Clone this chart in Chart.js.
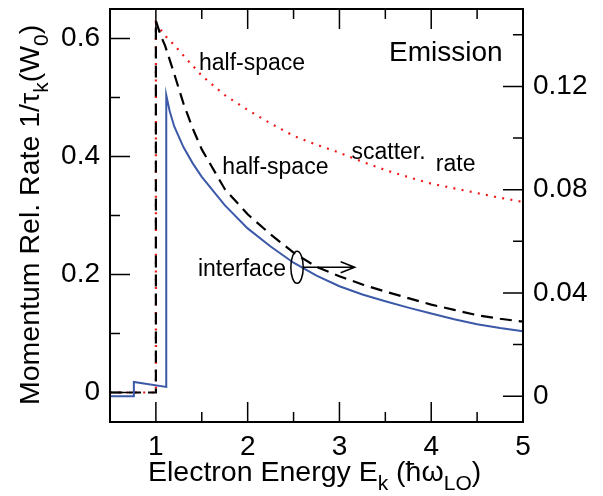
<!DOCTYPE html>
<html><head><meta charset="utf-8">
<script src="https://cdn.jsdelivr.net/npm/chart.js@4.4.0/dist/chart.umd.min.js"></script>
<style>html,body{margin:0;padding:0;background:#fff}#wrap{width:603px;height:496px;position:relative}</style>
</head><body><div id="wrap"><canvas id="c"></canvas></div>
<script>
// ---- data ----
const halfSpaceMomentumE    = [0.5, 1.0, 1.0, 1.05, 1.1, 1.2, 1.3, 1.4, 1.5, 1.75, 2.0, 2.25, 2.5, 2.75, 3.0, 3.25, 3.5, 3.75, 4.0, 4.25, 4.5, 4.75, 5.0];
const halfSpaceMomentumRate = [0, 0, 0.63, 0.606, 0.588, 0.54, 0.49, 0.448, 0.412, 0.345, 0.302, 0.268, 0.237, 0.213, 0.197, 0.183, 0.171, 0.160, 0.149, 0.140, 0.131, 0.125, 0.120];
const halfSpaceScatterE     = [0.5, 1.0, 1.0, 1.1, 1.2, 1.3, 1.5, 1.75, 2.0, 2.25, 2.5, 2.75, 3.0, 3.25, 3.5, 3.75, 4.0, 4.25, 4.5, 4.75, 5.0];
const halfSpaceScatterRate  = [0, 0, 0.626, 0.605, 0.589, 0.571, 0.537, 0.504, 0.479, 0.456, 0.435, 0.420, 0.4065, 0.391, 0.377, 0.365, 0.354, 0.346, 0.338, 0.330, 0.323];
const interfaceE            = [0.5, 0.76, 0.76, 1.113, 1.113, 1.15, 1.2, 1.3, 1.4, 1.5, 1.75, 2.0, 2.25, 2.5, 2.75, 3.0, 3.25, 3.5, 3.75, 4.0, 4.25, 4.5, 4.75, 5.0];
const interfaceRate         = [0, 0, 0.0055, 0.0036, 0.1166, 0.1105, 0.1045, 0.0965, 0.0903, 0.0850, 0.0740, 0.0650, 0.0580, 0.0517, 0.0467, 0.0426, 0.0394, 0.0368, 0.0343, 0.0320, 0.0298, 0.0279, 0.0264, 0.0252];

const xTicks = [1, 2, 3, 4, 5];
const xTickLabels = ['1', '2', '3', '4', '5'];
const xMinorTicks = [1.5, 2.5, 3.5, 4.5];
const leftTicks = [0, 0.2, 0.4, 0.6];
const leftTickLabels = ['0', '0.2', '0.4', '0.6'];
const leftMinorTicks = [0.1, 0.3, 0.5];
const rightTicks = [0, 0.04, 0.08, 0.12];
const rightTickLabels = ['0', '0.04', '0.08', '0.12'];
const rightMinorTicks = [0.02, 0.06, 0.10, 0.14];

const FONT = "'Liberation Sans', Arial, Helvetica, sans-serif";
const pts = (xs, ys) => xs.map((v, i) => ({x: v, y: ys[i]}));

function drawRich(ctx, parts, x, y, size, subSize, subDrop) {
  let cx = x;
  parts.forEach(([t, sub]) => {
    ctx.font = (sub ? subSize : size) + 'px ' + FONT;
    ctx.fillText(t, cx, y + (sub ? subDrop : 0));
    cx += ctx.measureText(t).width;
  });
}

const decor = {
  id: 'decor',
  afterDatasetsDraw(chart) {
    const {ctx, chartArea: a, scales} = chart;
    const x = scales.x, y = scales.y, y2 = scales.y2;
    ctx.save();
    ctx.strokeStyle = '#000';
    ctx.fillStyle = '#000';
    // frame
    ctx.lineWidth = 2;
    ctx.strokeRect(a.left, a.top, a.right - a.left, a.bottom - a.top);
    // inward ticks
    ctx.lineWidth = 1.5;
    ctx.beginPath();
    const MAJ = 20, MIN = 10;
    const xt = (v, L) => { const p = x.getPixelForValue(v); ctx.moveTo(p, a.bottom); ctx.lineTo(p, a.bottom - L); ctx.moveTo(p, a.top); ctx.lineTo(p, a.top + L); };
    xTicks.forEach(v => xt(v, MAJ)); xMinorTicks.forEach(v => xt(v, MIN));
    const lt = (v, L) => { const p = y.getPixelForValue(v); ctx.moveTo(a.left, p); ctx.lineTo(a.left + L, p); };
    leftTicks.forEach(v => lt(v, MAJ)); leftMinorTicks.forEach(v => lt(v, MIN));
    const rt = (v, L) => { const p = y2.getPixelForValue(v); ctx.moveTo(a.right, p); ctx.lineTo(a.right - L, p); };
    rightTicks.forEach(v => rt(v, MAJ)); rightMinorTicks.forEach(v => rt(v, MIN));
    ctx.stroke();

    // annotations (data coordinates)
    ctx.textBaseline = 'alphabetic';
    ctx.textAlign = 'left';
    const lab = (t, ex, ey, s) => { ctx.font = s + 'px ' + FONT; ctx.fillText(t, x.getPixelForValue(ex), y.getPixelForValue(ey)); };
    lab('half-space', 1.469, 0.546, 23);
    lab('half-space', 1.724, 0.371, 23);
    lab('scatter.', 3.131, 0.396, 23);
    lab('rate', 4.05, 0.375, 23);
    lab('interface', 1.458, 0.197, 23);
    lab('Emission', 3.54, 0.562, 28);

    // ellipse + arrow marking the interface curve (right axis)
    const ex = x.getPixelForValue(2.538), ey = y.getPixelForValue(0.2122);
    ctx.lineWidth = 1.5;
    ctx.beginPath();
    ctx.ellipse(ex, ey, 6.2, 16, 0, 0, Math.PI * 2);
    ctx.stroke();
    const ax1 = x.getPixelForValue(2.606), ax2 = x.getPixelForValue(3.166);
    ctx.beginPath();
    ctx.moveTo(ax1, ey); ctx.lineTo(ax2, ey);
    ctx.moveTo(ax2 - 14, ey - 5.5); ctx.lineTo(ax2, ey); ctx.lineTo(ax2 - 14, ey + 5.5);
    ctx.stroke();
    ctx.restore();
  },
  afterDraw(chart) {
    const {ctx} = chart;
    ctx.save();
    ctx.fillStyle = '#000';
    ctx.textBaseline = 'alphabetic';
    ctx.textAlign = 'left';
    // x title
    drawRich(ctx, [['Electron Energy E'], ['k', 1], [' (\u0127\u03C9'], ['LO', 1], [')']], 148, 481, 28.5, 21, 9);
    // y title
    ctx.translate(39, 405);
    ctx.rotate(-Math.PI / 2);
    drawRich(ctx, [['Momentum Rel. Rate 1/\u03C4'], ['k', 1], ['(W'], ['0', 1], [')']], 0, 0, 28.5, 21, 9);
    ctx.restore();
  }
};

const tickFont = {family: FONT, size: 28};
const noPad = s => { s.paddingTop = 0; s.paddingBottom = 0; s.paddingLeft = 0; s.paddingRight = 0; };

new Chart(document.getElementById('c'), {
  type: 'line',
  data: {
    datasets: [
      {label: 'interface', data: pts(interfaceE, interfaceRate), yAxisID: 'y2',
       borderColor: '#3c59a8', borderWidth: 2, fill: false},
      {label: 'half-space momentum', data: pts(halfSpaceMomentumE, halfSpaceMomentumRate), yAxisID: 'y',
       borderColor: '#000', borderWidth: 2.2, borderDash: [12, 7], fill: false},
      {label: 'half-space scatter. rate', data: pts(halfSpaceScatterE, halfSpaceScatterRate), yAxisID: 'y',
       borderColor: '#f01818', borderWidth: 2.2, borderDash: [2, 6.3], fill: false}
    ]
  },
  options: {
    responsive: true, maintainAspectRatio: false, animation: false, devicePixelRatio: 1,
    layout: {padding: {top: 9, left: 0, right: 0, bottom: 0}},
    plugins: {legend: {display: false}, tooltip: {enabled: false}},
    elements: {point: {radius: 0}, line: {tension: 0}},
    scales: {
      x: {type: 'linear', position: 'bottom', min: 0.5, max: 5,
          grid: {display: false, drawTicks: false}, border: {display: false},
          afterBuildTicks: s => { s.ticks = xTicks.map(v => ({value: v})); },
          afterFit: s => { s.height = 74; noPad(s); },
          ticks: {padding: 8, color: '#000', font: tickFont, maxRotation: 0, autoSkip: false,
                  callback: (v, i) => xTickLabels[i]}},
      y: {type: 'linear', position: 'left', min: -0.05, max: 0.65,
          grid: {display: false, drawTicks: false}, border: {display: false},
          afterBuildTicks: s => { s.ticks = leftTicks.map(v => ({value: v})); },
          afterFit: s => { s.width = 110; noPad(s); },
          ticks: {padding: 10, color: '#000', font: tickFont, autoSkip: false,
                  callback: (v, i) => leftTickLabels[i]}},
      y2: {type: 'linear', position: 'right', min: -0.01, max: 0.15,
          grid: {display: false, drawTicks: false}, border: {display: false},
          afterBuildTicks: s => { s.ticks = rightTicks.map(v => ({value: v})); },
          afterFit: s => { s.width = 80; noPad(s); },
          ticks: {padding: 10, color: '#000', font: tickFont, autoSkip: false,
                  callback: (v, i) => rightTickLabels[i]}}
    }
  },
  plugins: [decor]
});
</script>
</body></html>
